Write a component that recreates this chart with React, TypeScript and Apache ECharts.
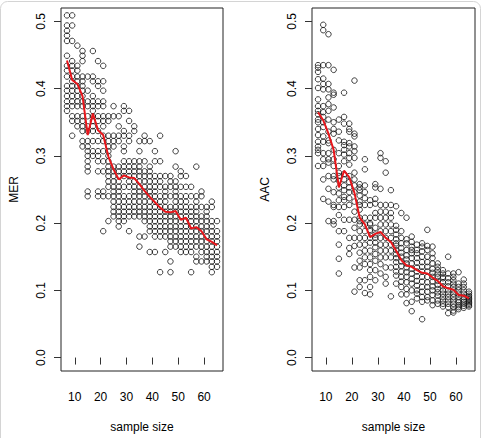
import React, { useEffect, useRef } from "react";
import * as echarts from "echarts";

const sampleSizes = [7, 9, 11, 13, 15, 17, 19, 21, 23, 25, 27, 29, 31, 33, 35, 37, 39, 41, 43, 45, 47, 49, 51, 53, 55, 57, 59, 61, 63, 65];

const merValues: number[][] = [
  [0.509, 0.494, 0.486, 0.479, 0.471, 0.449, 0.434, 0.427, 0.418, 0.404, 0.397, 0.389, 0.381, 0.374, 0.367],
  [0.509, 0.494, 0.471, 0.441, 0.434, 0.427, 0.418, 0.411, 0.404, 0.397, 0.389, 0.381, 0.374, 0.359, 0.352, 0.330],
  [0.464, 0.434, 0.427, 0.418, 0.411, 0.404, 0.397, 0.389, 0.381, 0.374, 0.359, 0.352, 0.344],
  [0.456, 0.449, 0.441, 0.418, 0.411, 0.404, 0.397, 0.389, 0.381, 0.374, 0.359, 0.352, 0.344, 0.337, 0.322, 0.314],
  [0.418, 0.397, 0.381, 0.374, 0.359, 0.344, 0.337, 0.322, 0.314, 0.307, 0.300, 0.292, 0.284, 0.277, 0.247, 0.240],
  [0.456, 0.418, 0.411, 0.389, 0.381, 0.374, 0.367, 0.359, 0.352, 0.344, 0.337, 0.322, 0.307, 0.300],
  [0.441, 0.411, 0.404, 0.381, 0.374, 0.359, 0.352, 0.337, 0.322, 0.307, 0.300, 0.292, 0.277, 0.247, 0.240],
  [0.434, 0.411, 0.397, 0.381, 0.374, 0.359, 0.352, 0.344, 0.330, 0.322, 0.307, 0.292, 0.277, 0.247, 0.240, 0.188],
  [0.359, 0.352, 0.330, 0.322, 0.314, 0.307, 0.300, 0.292, 0.284, 0.277, 0.270, 0.262, 0.254, 0.240, 0.203],
  [0.374, 0.359, 0.330, 0.322, 0.314, 0.284, 0.277, 0.270, 0.262, 0.254, 0.247, 0.240, 0.232, 0.224, 0.217, 0.210],
  [0.359, 0.344, 0.330, 0.322, 0.284, 0.277, 0.270, 0.262, 0.254, 0.247, 0.240, 0.232, 0.224, 0.217, 0.210, 0.203, 0.195],
  [0.374, 0.367, 0.337, 0.330, 0.314, 0.307, 0.292, 0.284, 0.277, 0.270, 0.254, 0.240, 0.232, 0.224, 0.217, 0.210, 0.203],
  [0.367, 0.352, 0.330, 0.322, 0.292, 0.284, 0.277, 0.270, 0.262, 0.254, 0.240, 0.232, 0.224, 0.217, 0.210, 0.188],
  [0.344, 0.337, 0.292, 0.284, 0.277, 0.270, 0.262, 0.254, 0.247, 0.240, 0.232, 0.224, 0.217, 0.210],
  [0.322, 0.307, 0.292, 0.284, 0.277, 0.270, 0.262, 0.254, 0.247, 0.240, 0.232, 0.224, 0.217, 0.210, 0.180, 0.165],
  [0.330, 0.322, 0.292, 0.277, 0.270, 0.262, 0.254, 0.247, 0.240, 0.232, 0.224, 0.217, 0.210, 0.203, 0.180],
  [0.322, 0.284, 0.277, 0.270, 0.262, 0.254, 0.247, 0.240, 0.232, 0.224, 0.217, 0.210, 0.203, 0.195, 0.188, 0.157],
  [0.307, 0.292, 0.270, 0.262, 0.254, 0.247, 0.240, 0.232, 0.224, 0.217, 0.210, 0.203, 0.195, 0.188, 0.180, 0.157],
  [0.330, 0.292, 0.270, 0.262, 0.254, 0.240, 0.232, 0.224, 0.217, 0.210, 0.203, 0.195, 0.188, 0.180, 0.127],
  [0.270, 0.254, 0.247, 0.240, 0.232, 0.224, 0.217, 0.210, 0.203, 0.195, 0.188, 0.180, 0.157],
  [0.270, 0.262, 0.254, 0.240, 0.224, 0.217, 0.210, 0.203, 0.195, 0.188, 0.180, 0.173, 0.165, 0.143, 0.127],
  [0.307, 0.284, 0.262, 0.254, 0.247, 0.240, 0.232, 0.224, 0.217, 0.210, 0.203, 0.195, 0.188, 0.180, 0.173, 0.165],
  [0.277, 0.270, 0.254, 0.240, 0.232, 0.224, 0.217, 0.210, 0.203, 0.195, 0.188, 0.180, 0.173, 0.165, 0.157],
  [0.270, 0.254, 0.240, 0.232, 0.224, 0.217, 0.210, 0.203, 0.195, 0.188, 0.180, 0.173, 0.165, 0.157],
  [0.254, 0.240, 0.224, 0.217, 0.210, 0.203, 0.195, 0.188, 0.180, 0.173, 0.165, 0.157, 0.127],
  [0.284, 0.240, 0.232, 0.224, 0.217, 0.210, 0.203, 0.195, 0.188, 0.180, 0.173, 0.165, 0.150, 0.143],
  [0.247, 0.240, 0.224, 0.210, 0.203, 0.195, 0.188, 0.180, 0.173, 0.165, 0.157, 0.143],
  [0.224, 0.217, 0.210, 0.203, 0.195, 0.188, 0.180, 0.173, 0.165, 0.157, 0.150, 0.143],
  [0.232, 0.224, 0.203, 0.195, 0.188, 0.180, 0.173, 0.165, 0.157, 0.150, 0.143, 0.135, 0.127],
  [0.203, 0.188, 0.180, 0.173, 0.165, 0.157, 0.150, 0.143, 0.135],
];

const merMeans = [0.442, 0.413, 0.407, 0.389, 0.331, 0.363, 0.338, 0.331, 0.299, 0.280, 0.265, 0.271, 0.268, 0.267, 0.258, 0.248, 0.239, 0.231, 0.223, 0.217, 0.216, 0.218, 0.205, 0.208, 0.192, 0.194, 0.188, 0.176, 0.172, 0.167];

const aacValues: number[][] = [
  [0.435, 0.431, 0.425, 0.414, 0.401, 0.384, 0.374, 0.367, 0.362, 0.354, 0.350, 0.340, 0.331, 0.321, 0.314, 0.309, 0.304, 0.285],
  [0.495, 0.487, 0.435, 0.415, 0.407, 0.399, 0.374, 0.365, 0.358, 0.350, 0.343, 0.329, 0.321, 0.304, 0.295, 0.285, 0.265, 0.236],
  [0.481, 0.435, 0.407, 0.399, 0.387, 0.377, 0.367, 0.354, 0.336, 0.323, 0.319, 0.304, 0.295, 0.290, 0.270, 0.251, 0.232, 0.203],
  [0.428, 0.394, 0.391, 0.372, 0.350, 0.340, 0.333, 0.309, 0.295, 0.285, 0.270, 0.265, 0.246, 0.227, 0.224, 0.203, 0.198],
  [0.354, 0.336, 0.323, 0.304, 0.285, 0.275, 0.270, 0.263, 0.253, 0.244, 0.234, 0.224, 0.212, 0.188, 0.168, 0.147, 0.125],
  [0.394, 0.358, 0.348, 0.321, 0.316, 0.309, 0.302, 0.292, 0.273, 0.265, 0.256, 0.249, 0.239, 0.234, 0.224, 0.205, 0.188],
  [0.348, 0.340, 0.336, 0.319, 0.314, 0.304, 0.297, 0.287, 0.270, 0.261, 0.253, 0.246, 0.237, 0.227, 0.205, 0.178, 0.163, 0.154],
  [0.412, 0.333, 0.329, 0.314, 0.307, 0.297, 0.275, 0.265, 0.256, 0.246, 0.232, 0.217, 0.205, 0.193, 0.178, 0.166, 0.134, 0.098],
  [0.258, 0.253, 0.249, 0.241, 0.232, 0.227, 0.220, 0.208, 0.203, 0.198, 0.188, 0.178, 0.168, 0.156, 0.144, 0.134, 0.115, 0.105],
  [0.295, 0.280, 0.256, 0.246, 0.237, 0.227, 0.208, 0.198, 0.188, 0.178, 0.168, 0.159, 0.149, 0.139, 0.115, 0.096],
  [0.234, 0.227, 0.208, 0.200, 0.198, 0.190, 0.188, 0.178, 0.171, 0.159, 0.149, 0.139, 0.130, 0.120, 0.105, 0.094],
  [0.258, 0.253, 0.236, 0.229, 0.215, 0.208, 0.193, 0.183, 0.178, 0.171, 0.164, 0.154, 0.144, 0.130, 0.115],
  [0.304, 0.297, 0.251, 0.227, 0.217, 0.208, 0.198, 0.188, 0.178, 0.168, 0.159, 0.149, 0.139, 0.125],
  [0.292, 0.275, 0.227, 0.217, 0.208, 0.198, 0.188, 0.178, 0.168, 0.159, 0.149, 0.134, 0.120, 0.110],
  [0.249, 0.227, 0.215, 0.208, 0.198, 0.188, 0.178, 0.168, 0.159, 0.149, 0.134, 0.091],
  [0.225, 0.196, 0.190, 0.183, 0.176, 0.170, 0.166, 0.160, 0.154, 0.148, 0.142, 0.135, 0.128, 0.122, 0.110],
  [0.215, 0.188, 0.178, 0.170, 0.163, 0.156, 0.150, 0.143, 0.136, 0.128, 0.120, 0.113, 0.105, 0.094],
  [0.208, 0.176, 0.170, 0.160, 0.152, 0.146, 0.140, 0.134, 0.127, 0.120, 0.112, 0.102, 0.094, 0.081],
  [0.180, 0.172, 0.165, 0.160, 0.155, 0.148, 0.140, 0.132, 0.125, 0.117, 0.110, 0.100, 0.083, 0.069],
  [0.168, 0.160, 0.155, 0.148, 0.141, 0.134, 0.128, 0.121, 0.114, 0.107, 0.100, 0.095, 0.088],
  [0.170, 0.165, 0.158, 0.150, 0.142, 0.135, 0.128, 0.120, 0.113, 0.105, 0.098, 0.090, 0.083, 0.057],
  [0.190, 0.166, 0.160, 0.150, 0.142, 0.135, 0.128, 0.120, 0.112, 0.105, 0.098, 0.090, 0.085],
  [0.165, 0.155, 0.148, 0.140, 0.132, 0.126, 0.120, 0.113, 0.106, 0.100, 0.093, 0.085, 0.078],
  [0.140, 0.135, 0.130, 0.125, 0.120, 0.114, 0.108, 0.102, 0.097, 0.092, 0.085, 0.080],
  [0.130, 0.125, 0.120, 0.118, 0.112, 0.106, 0.100, 0.095, 0.090, 0.085, 0.080, 0.076],
  [0.150, 0.125, 0.118, 0.112, 0.106, 0.100, 0.095, 0.090, 0.085, 0.080, 0.075, 0.066],
  [0.125, 0.120, 0.115, 0.110, 0.105, 0.100, 0.095, 0.090, 0.085, 0.080, 0.075, 0.070, 0.067],
  [0.127, 0.110, 0.105, 0.100, 0.095, 0.090, 0.085, 0.082, 0.078, 0.075, 0.072],
  [0.116, 0.110, 0.105, 0.100, 0.095, 0.090, 0.086, 0.083, 0.080, 0.077, 0.074],
  [0.098, 0.095, 0.092, 0.090, 0.088, 0.086, 0.084, 0.082, 0.080, 0.078, 0.076],
];

const aacMeans = [0.365, 0.353, 0.333, 0.309, 0.253, 0.278, 0.268, 0.245, 0.208, 0.198, 0.179, 0.184, 0.187, 0.178, 0.172, 0.159, 0.145, 0.137, 0.135, 0.130, 0.126, 0.125, 0.119, 0.114, 0.106, 0.103, 0.101, 0.093, 0.092, 0.088];

const xTicks = [10, 20, 30, 40, 50, 60];
const yTicks = [0, 0.1, 0.2, 0.3, 0.4, 0.5];
const panelNames = ["MER", "AAC"];
const xName = "sample size";

const FONT = "'Liberation Sans', Arial, Helvetica, sans-serif";

export default function App() {
  const ref = useRef<HTMLDivElement>(null);
  useEffect(() => {
    if (!ref.current) return;
    const chart = echarts.init(ref.current, null, { renderer: "svg" });
    const toPoints = (vals: number[][]) =>
      vals.flatMap((col, i) => col.map((v) => [sampleSizes[i], v]));
    const toLine = (means: number[]) => means.map((m, i) => [sampleSizes[i], m]);

    const grids = [
      { left: 61, top: 8, width: 162, height: 371 },
      { left: 312, top: 8, width: 163, height: 371 },
    ];
    const mkX = (gi: number) => ({
      gridIndex: gi,
      type: "value",
      min: 4.68,
      max: 67.32,
      axisLine: { show: false },
      splitLine: { show: false },
      axisTick: { show: true, length: 7, lineStyle: { color: "#333", width: 1 }, customValues: xTicks },
      axisLabel: { customValues: xTicks, margin: 20, fontSize: 12, color: "#000", fontFamily: FONT },
      name: xName,
      nameLocation: "middle",
      nameGap: 50,
      nameTextStyle: { fontSize: 12, color: "#000", fontFamily: FONT },
    });
    const mkY = (gi: number) => ({
      gridIndex: gi,
      type: "value",
      min: -0.02,
      max: 0.52,
      axisLine: { show: false },
      splitLine: { show: false },
      axisTick: { show: true, length: 7, lineStyle: { color: "#333", width: 1 }, customValues: yTicks },
      axisLabel: {
        customValues: yTicks,
        rotate: 90,
        margin: 14,
        fontSize: 12,
        color: "#000",
        fontFamily: FONT,
        formatter: (v: number) => v.toFixed(1),
      },
      name: panelNames[gi],
      nameLocation: "middle",
      nameGap: 41,
      nameTextStyle: { fontSize: 12, color: "#000", fontFamily: FONT },
    });
    const scatterStyle = {
      type: "scatter",
      symbol: "circle",
      symbolSize: 5.5,
      itemStyle: { color: "rgba(0,0,0,0)", borderColor: "#111", borderWidth: 1 },
      silent: true,
    };
    const lineStyle = {
      type: "line",
      showSymbol: false,
      symbol: "none",
      lineStyle: { color: "#e8161b", width: 2 },
      silent: true,
      z: 5,
    };
    chart.setOption({
      animation: false,
      backgroundColor: "#ffffff",
      grid: grids.map((g) => ({ ...g, show: true, borderColor: "#222", borderWidth: 1, backgroundColor: "transparent" })),
      xAxis: [mkX(0), mkX(1)],
      yAxis: [mkY(0), mkY(1)],
      series: [
        { ...scatterStyle, xAxisIndex: 0, yAxisIndex: 0, data: toPoints(merValues) },
        { ...lineStyle, xAxisIndex: 0, yAxisIndex: 0, data: toLine(merMeans) },
        { ...scatterStyle, xAxisIndex: 1, yAxisIndex: 1, data: toPoints(aacValues) },
        { ...lineStyle, xAxisIndex: 1, yAxisIndex: 1, data: toLine(aacMeans) },
      ],
      graphic: [
        {
          type: "rect",
          shape: { x: 0.5, y: 1.5, width: 480, height: 480, r: 7 },
          style: { fill: "none", stroke: "#d4d4d4", lineWidth: 1 },
          silent: true,
          z: 100,
        },
      ],
    });
    return () => chart.dispose();
  }, []);
  return (
    <div
      ref={ref}
      style={{ position: "absolute", left: 0, top: 0, width: 485, height: 438 }}
    />
  );
}
